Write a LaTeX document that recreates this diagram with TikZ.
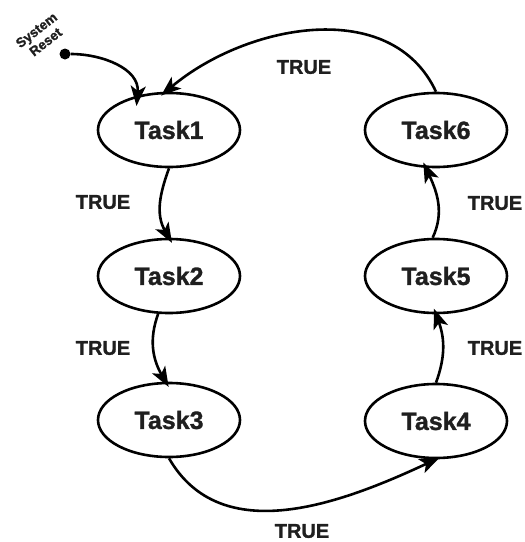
\documentclass[tikz,border=0pt]{standalone}
\usepackage{fontspec}
\setmainfont{Liberation Sans}[BoldFeatures={FakeBold=1.2}]
\usetikzlibrary{shapes.geometric,arrows.meta,calc}
\begin{document}
\begin{tikzpicture}[x=1pt,y=1pt,
  task/.style={ellipse,draw,line width=2.6pt,minimum width=142pt,minimum height=74pt,inner sep=0pt,font=\fontsize{25}{25}\selectfont\bfseries,text=black!88},
  lbl/.style={font=\fontsize{20}{20}\selectfont\bfseries,text=black!88},
  conn/.style={line width=2.6pt,-{Stealth[length=20pt,width=15pt,inset=5pt]},shorten >=-6pt}]
\useasboundingbox (0,0) rectangle (525,-542);
\node[task] (t1) at (169,-130) {Task1};
\node[task] (t2) at (169,-276) {Task2};
\node[task] (t3) at (169,-420) {Task3};
\node[task] (t4) at (436,-421) {Task4};
\node[task] (t5) at (436,-276) {Task5};
\node[task] (t6) at (436,-130) {Task6};
\node[circle,fill,inner sep=0pt,minimum size=11pt] (sr) at (65,-54) {};
\node[font=\fontsize{13.5}{15}\selectfont\bfseries,align=center,rotate=38,text=black!88,inner sep=0pt] (srl) at (41,-36) {System\\Reset};
\node[lbl] (l1) at (103,-202) {TRUE};
\node[lbl] (l2) at (103,-348) {TRUE};
\node[lbl] (l3) at (302,-531) {TRUE};
\node[lbl] (l4) at (495,-348) {TRUE};
\node[lbl] (l5) at (495,-203) {TRUE};
\node[lbl] (l6) at (304,-67) {TRUE};
\draw[conn] (sr.east) to[out=0,in=85] ($(t1.center)+(-32,30)$);
\draw[conn] (t1.south) to[out=250,in=120] (t2.north);
\draw[conn] (t2.254) to[out=250,in=120] (t3.95);
\draw[conn,shorten >=-4pt] (t3.south) to[out=-60,in=205] (t4.south);
\draw[conn] (t4.north) to[out=70,in=-70] (t5.south);
\draw[conn] (t5.95) to[out=65,in=-65] (t6.255);
\draw[conn] (t6.north) to[out=115,in=40] (t1.95);
\end{tikzpicture}
\end{document}
